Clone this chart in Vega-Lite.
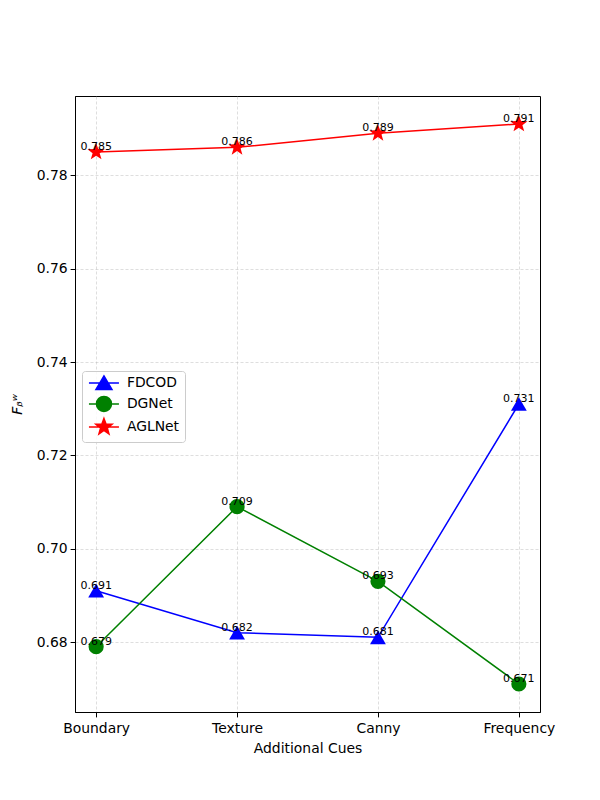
{
  "$schema": "https://vega.github.io/schema/vega-lite/v6.json",
  "width": 465,
  "height": 616,
  "autosize": "none",
  "padding": {"left": 75, "top": 96, "right": 60, "bottom": 88},
  "background": "white",
  "data": {
    "values": [
      {"cue": "Boundary", "model": "FDCOD", "score": 0.691},
      {"cue": "Texture", "model": "FDCOD", "score": 0.682},
      {"cue": "Canny", "model": "FDCOD", "score": 0.681},
      {"cue": "Frequency", "model": "FDCOD", "score": 0.731},
      {"cue": "Boundary", "model": "DGNet", "score": 0.679},
      {"cue": "Texture", "model": "DGNet", "score": 0.709},
      {"cue": "Canny", "model": "DGNet", "score": 0.693},
      {"cue": "Frequency", "model": "DGNet", "score": 0.671},
      {"cue": "Boundary", "model": "AGLNet", "score": 0.785},
      {"cue": "Texture", "model": "AGLNet", "score": 0.786},
      {"cue": "Canny", "model": "AGLNet", "score": 0.789},
      {"cue": "Frequency", "model": "AGLNet", "score": 0.791}
    ]
  },
  "encoding": {
    "x": {
      "field": "cue",
      "type": "ordinal",
      "sort": ["Boundary", "Texture", "Canny", "Frequency"],
      "scale": {"type": "point", "padding": 0.15},
      "title": "Additional Cues",
      "axis": {"labelAngle": 0, "titlePadding": 6, "labelPadding": 4.5}
    },
    "y": {
      "field": "score",
      "type": "quantitative",
      "scale": {"domain": [0.665, 0.797], "nice": false, "zero": false},
      "title": "Fᵦʷ",
      "axis": {
        "values": [0.68, 0.7, 0.72, 0.74, 0.76, 0.78],
        "format": ".2f",
        "titlePadding": 12,
        "titleFontStyle": "italic"
      }
    },
    "color": {
      "field": "model",
      "type": "nominal",
      "scale": {"domain": ["FDCOD", "DGNet", "AGLNet"], "range": ["#0000ff", "#008000", "#ff0000"]},
      "legend": {
        "title": null,
        "orient": "none",
        "legendX": 7,
        "legendY": 275,
        "padding": 5,
        "symbolSize": 100,
        "symbolOffset": 10,
        "labelOffset": 16,
        "rowPadding": 0,
        "labelFontSize": 13.9,
        "labelFont": "DejaVu Sans",
        "labelColor": "black",
        "strokeColor": "#cccccc",
        "fillColor": "rgba(255,255,255,0.8)",
        "cornerRadius": 3,
        "symbolStrokeWidth": 1.5,
        "encode": {
          "symbols": {
            "update": {
              "shape": {"signal": "datum.value === 'FDCOD' ? 'M-3,0H3M0,-1.4L1.6,1.3L-1.6,1.3Z' : datum.value === 'DGNet' ? 'M-3,0H3M1.5,0A1.5,1.5,0,1,1,-1.5,0A1.5,1.5,0,1,1,1.5,0Z' : 'M-3,0H3M0,-1.7L0.41,-0.57L1.62,-0.53L0.67,0.22L1,1.38L0,0.7L-1,1.38L-0.67,0.22L-1.62,-0.53L-0.41,-0.57Z'"},
              "fill": {"scale": "color", "field": "value"},
              "stroke": {"scale": "color", "field": "value"},
              "strokeWidth": {"value": 1.5},
              "fillOpacity": {"value": 1},
              "opacity": {"value": 1}
            }
          }
        }
      }
    }
  },
  "layer": [
    {
      "mark": {"type": "line", "strokeWidth": 1.5}
    },
    {
      "transform": [{"filter": "datum.model === 'FDCOD'"}],
      "mark": {"type": "point", "filled": true, "opacity": 1, "size": 250, "shape": "triangle-up"}
    },
    {
      "transform": [{"filter": "datum.model === 'DGNet'"}],
      "mark": {"type": "point", "filled": true, "opacity": 1, "size": 230, "shape": "circle"}
    },
    {
      "transform": [{"filter": "datum.model === 'AGLNet'"}],
      "mark": {"type": "point", "filled": true, "opacity": 1, "size": 330, "shape": "M0,-1L0.24,-0.33L0.95,-0.31L0.39,0.13L0.59,0.81L0,0.41L-0.59,0.81L-0.39,0.13L-0.95,-0.31L-0.24,-0.33Z"}
    },
    {
      "mark": {"type": "text", "font": "DejaVu Sans", "fontSize": 11, "baseline": "alphabetic", "align": "center", "dy": -2},
      "encoding": {
        "text": {"field": "score", "type": "quantitative", "format": ".3f"},
        "color": {"value": "black"}
      }
    }
  ],
  "config": {
    "font": "DejaVu Sans",
    "view": {"stroke": "black", "strokeWidth": 1},
    "axis": {
      "labelFont": "DejaVu Sans",
      "labelFontSize": 13.9,
      "labelColor": "black",
      "titleFont": "DejaVu Sans",
      "titleFontSize": 13.9,
      "titleFontWeight": "normal",
      "titleColor": "black",
      "tickColor": "black",
      "tickSize": 4.9,
      "labelPadding": 3,
      "domainColor": "black",
      "grid": true,
      "gridColor": "#b0b0b0",
      "gridOpacity": 0.7,
      "gridWidth": 0.6,
      "gridDash": [3, 2]
    }
  }
}
